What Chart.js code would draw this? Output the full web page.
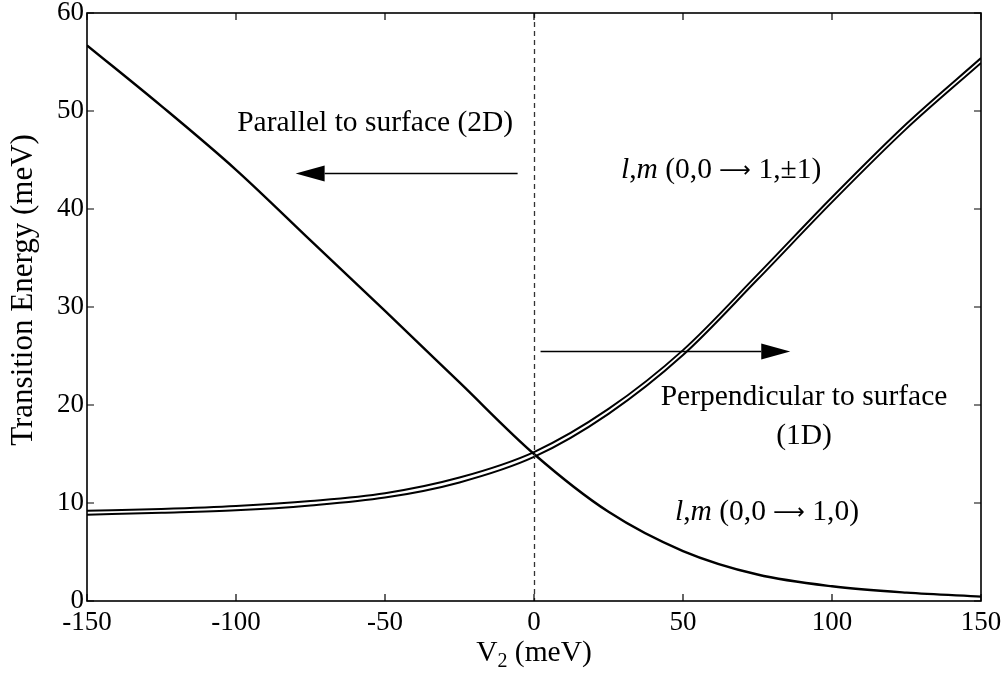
<!DOCTYPE html>
<html>
<head>
<meta charset="utf-8">
<script src="https://cdn.jsdelivr.net/npm/chart.js@4.4.1/dist/chart.umd.min.js"></script>
<style>
  html, body { margin: 0; padding: 0; background: #ffffff; }
  #wrap { width: 1008px; height: 676px; }
</style>
</head>
<body>
<div id="wrap"><canvas id="chart" width="1008" height="676"></canvas></div>
<script>
// Surface potential V2 (meV)
const voltages = [-150, -125, -100, -75, -50, -25, 0, 25, 50, 75, 100, 125, 150];
// l,m (0,0 -> 1,0): parallel to surface (2D)
const parallelEnergy = [56.7, 50.5, 44.0, 36.8, 29.6, 22.3, 15.0, 9.1, 5.1, 2.7, 1.5, 0.85, 0.45];
// l,m (0,0 -> 1,±1): perpendicular to surface (1D), split pair
const perpUpper = [9.2, 9.4, 9.7, 10.2, 11.0, 12.6, 15.2, 19.6, 25.6, 33.3, 41.2, 48.7, 55.4];
const perpLower = [8.8, 9.0, 9.25, 9.75, 10.55, 12.1, 14.7, 19.1, 25.1, 32.8, 40.7, 48.2, 54.9];
// Axis ticks
const xTicks = [-150, -100, -50, 0, 50, 100, 150];
const yTicks = [0, 10, 20, 30, 40, 50, 60];

const SERIF = '"Liberation Serif", "Times New Roman", serif';
const FS = 27;      // tick labels
const FT = 29.5;    // annotations and axis titles

const toPoints = (ys) => voltages.map((v, i) => ({ x: v, y: ys[i] }));

// Frame, inward ticks, dashed zero line, arrows and annotations
const decorations = {
  id: 'decorations',
  afterDatasetsDraw(chart) {
    const { ctx, chartArea: a, scales: { x, y } } = chart;
    ctx.save();

    // dashed line at V2 = 0
    ctx.strokeStyle = '#333';
    ctx.lineWidth = 1.3;
    ctx.setLineDash([5, 4]);
    const x0 = Math.round(x.getPixelForValue(0)) + 0.5;
    ctx.beginPath();
    ctx.moveTo(x0, a.top);
    ctx.lineTo(x0, a.bottom);
    ctx.stroke();
    ctx.setLineDash([]);

    // frame
    ctx.strokeStyle = '#000';
    ctx.lineWidth = 1.6;
    ctx.strokeRect(a.left, a.top, a.right - a.left, a.bottom - a.top);

    // inward ticks on all four sides
    const tl = 7;
    ctx.lineWidth = 1.2;
    ctx.beginPath();
    xTicks.forEach(v => {
      const px = x.getPixelForValue(v);
      ctx.moveTo(px, a.bottom); ctx.lineTo(px, a.bottom - tl);
      ctx.moveTo(px, a.top); ctx.lineTo(px, a.top + tl);
    });
    yTicks.forEach(v => {
      const py = y.getPixelForValue(v);
      ctx.moveTo(a.left, py); ctx.lineTo(a.left + tl, py);
      ctx.moveTo(a.right, py); ctx.lineTo(a.right - tl, py);
    });
    ctx.stroke();

    // arrows
    const arrow = (v1, v2, e) => {
      const xa = x.getPixelForValue(v1), xb = x.getPixelForValue(v2);
      const py = Math.round(y.getPixelForValue(e)) + 0.5;
      const dir = Math.sign(xb - xa);
      const head = 29, half = 8;
      ctx.lineWidth = 1.3;
      ctx.beginPath();
      ctx.moveTo(xa, py);
      ctx.lineTo(xb - dir * head, py);
      ctx.stroke();
      ctx.beginPath();
      ctx.moveTo(xb, py);
      ctx.lineTo(xb - dir * head, py - half);
      ctx.lineTo(xb - dir * head, py + half);
      ctx.closePath();
      ctx.fill();
    };
    ctx.fillStyle = '#000';
    arrow(-5.5, -80, 43.7);
    arrow(2.2, 86, 25.5);

    // text helpers
    ctx.textBaseline = 'alphabetic';
    const put = (text, px, py, align) => {
      ctx.font = FT + 'px ' + SERIF;
      ctx.textAlign = align;
      ctx.fillText(text, px, py);
    };
    const lmLabel = (before, after, v, e) => {
      let px = x.getPixelForValue(v);
      const py = y.getPixelForValue(e);
      const parts = [
        ['l', 'italic ' + FT + 'px ' + SERIF, 0],
        [',', FT + 'px ' + SERIF, 0],
        ['m', 'italic ' + FT + 'px ' + SERIF, 0],
        [before, FT + 'px ' + SERIF, 0],
        ['\u27F6', (FT * 0.75) + 'px "DejaVu Sans", sans-serif', -1],
        [after, FT + 'px ' + SERIF, 0]
      ];
      ctx.textAlign = 'left';
      parts.forEach(([t, f, dy]) => {
        ctx.font = f;
        ctx.fillText(t, px, py + dy);
        px += ctx.measureText(t).width;
      });
    };

    put('Parallel to surface (2D)', x.getPixelForValue(-53.3), y.getPixelForValue(48.0), 'center');
    lmLabel(' (0,0 ', ' 1,\u00b11)', 29.2, 43.2);
    put('Perpendicular to surface', x.getPixelForValue(90.6), y.getPixelForValue(20.0), 'center');
    put('(1D)', x.getPixelForValue(90.6), y.getPixelForValue(16.0), 'center');
    lmLabel(' (0,0 ', ' 1,0)', 47.3, 8.3);

    // x axis title with subscript
    ctx.font = FT + 'px ' + SERIF;
    const wV = ctx.measureText('V').width;
    const wRest = ctx.measureText(' (meV)').width;
    ctx.font = Math.round(FT * 0.68) + 'px ' + SERIF;
    const wSub = ctx.measureText('2').width;
    const total = wV + wSub + wRest;
    let tx = (a.left + a.right) / 2 - total / 2;
    const ty = 661;
    ctx.textAlign = 'left';
    ctx.font = FT + 'px ' + SERIF;
    ctx.fillText('V', tx, ty); tx += wV;
    ctx.font = Math.round(FT * 0.68) + 'px ' + SERIF;
    ctx.fillText('2', tx, ty + 6); tx += wSub;
    ctx.font = FT + 'px ' + SERIF;
    ctx.fillText(' (meV)', tx, ty);

    // y axis title
    ctx.translate(24, 290);
    ctx.rotate(-Math.PI / 2);
    ctx.textAlign = 'center';
    ctx.textBaseline = 'middle';
    ctx.font = '31px ' + SERIF;
    ctx.fillText('Transition Energy (meV)', 0, 0);

    ctx.restore();
  }
};

const lineStyle = {
  showLine: true,
  borderColor: '#000',
  backgroundColor: '#000',
  pointRadius: 0,
  fill: false,
  cubicInterpolationMode: 'monotone'
};

new Chart(document.getElementById('chart'), {
  type: 'scatter',
  data: {
    datasets: [
      Object.assign({ label: 'l,m (0,0 \u2192 1,0)', data: toPoints(parallelEnergy), borderWidth: 2.4 }, lineStyle),
      Object.assign({ label: 'l,m (0,0 \u2192 1,\u00b11) a', data: toPoints(perpUpper), borderWidth: 2.0 }, lineStyle),
      Object.assign({ label: 'l,m (0,0 \u2192 1,\u00b11) b', data: toPoints(perpLower), borderWidth: 2.0 }, lineStyle)
    ]
  },
  options: {
    responsive: false,
    animation: false,
    layout: { padding: { left: 0, right: 27, top: 13, bottom: 0 } },
    plugins: { legend: { display: false }, tooltip: { enabled: false } },
    scales: {
      x: {
        type: 'linear',
        min: -150, max: 150,
        afterBuildTicks: (s) => { s.ticks = xTicks.map(v => ({ value: v })); },
        afterFit: (s) => { s.height = 75; s.paddingLeft = 0; s.paddingRight = 0; },
        grid: { display: false, drawTicks: false },
        border: { display: false },
        ticks: { color: '#000', padding: 6, maxRotation: 0, font: { family: SERIF, size: FS } }
      },
      y: {
        type: 'linear',
        min: 0, max: 60,
        afterBuildTicks: (s) => { s.ticks = yTicks.map(v => ({ value: v })); },
        afterFit: (s) => { s.width = 87; s.paddingTop = 0; s.paddingBottom = 0; },
        grid: { display: false, drawTicks: false },
        border: { display: false },
        ticks: { color: '#000', padding: 3, font: { family: SERIF, size: FS } }
      }
    }
  },
  plugins: [decorations]
});
</script>
</body>
</html>
